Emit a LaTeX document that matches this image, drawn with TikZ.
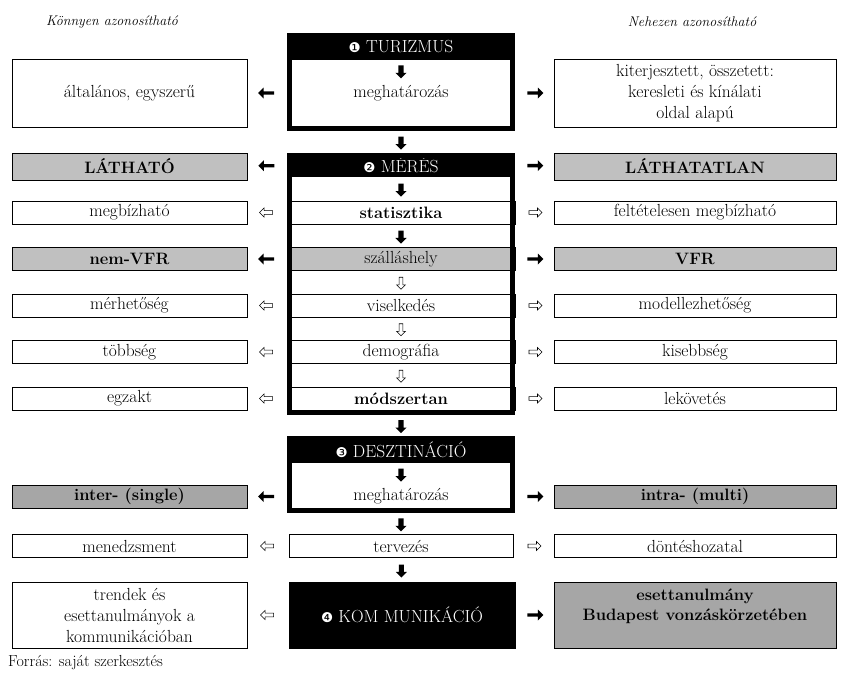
\documentclass[tikz,border=0pt]{standalone}
\usepackage{fontspec}
\newfontfamily\dingfont{DejaVu Sans}
\usetikzlibrary{shapes.arrows,fit}
\definecolor{lightgr}{RGB}{192,192,192}
\definecolor{darkgr}{RGB}{166,166,166}
\newcommand{\txt}{\fontsize{17.5}{21}\selectfont}
\newcommand{\btxt}{\fontsize{16.5}{20.5}\selectfont\bfseries}
\newcommand{\dnum}[1]{{\dingfont\fontsize{13.5}{13.5}\selectfont#1}}

\begin{document}
\begin{tikzpicture}[x=1pt,y=-1pt,font=\txt,
  sidebox/.style={draw,line width=0.8pt,fill=white,inner sep=0pt,align=center,minimum height=23pt},
  lbox/.style={sidebox,minimum width=235pt},
  rbox/.style={sidebox,minimum width=282pt},
  mbox/.style={sidebox,minimum width=228pt},
  headbox/.style={fill=black,text=white,inner sep=0pt,minimum width=228pt,minimum height=27pt},
  thickframe/.style={draw,line width=5pt,inner sep=-2.5pt},
  arr/.style={single arrow,inner xsep=0pt,minimum width=0pt,single arrow head indent=0pt},
  fullright/.style={arr,fill=black,inner ysep=1.5pt,minimum height=16pt,single arrow head extend=3.8pt},
  fullleft/.style={fullright,rotate=180},
  fulldown/.style={arr,fill=black,inner ysep=2.4pt,minimum height=13pt,single arrow head extend=3pt,rotate=-90},
  openright/.style={arr,draw,line width=0.6pt,fill=white,inner ysep=1.6pt,minimum height=13pt,single arrow head extend=2.6pt},
  openleft/.style={openright,rotate=180},
  opendown/.style={openright,minimum height=12pt,single arrow head extend=2.4pt,rotate=-90}]
\useasboundingbox (0,0) rectangle (842,675);

\node[font=\fontsize{14}{17}\selectfont\itshape] (easy) at (112,22) {Könnyen azonosítható};
\node[font=\fontsize{14}{17}\selectfont\itshape] (hard) at (692,22) {Nehezen azonosítható};

% turizmus
\node[headbox] (h1) at (401,46.5) {\dnum{❶} TURIZMUS};
\node[mbox,draw=none,fill=none] (d1) at (401,93) {meghatározás};
\coordinate (e1) at (401,131);
\node[thickframe,fit=(h1)(d1)(e1)] (f1) {};
\node[lbox,minimum height=68pt] (l1) at (129.5,93) {általános, egyszerű};
\node[rbox,minimum height=68pt] (r1) at (695,93) {kiterjesztett, összetett:\\keresleti és kínálati\\oldal alapú};

% meres
\node[headbox,minimum height=24pt] (h2) at (401,165) {\dnum{❷} MÉRÉS};
\node[mbox,font=\btxt] (m1) at (401,212.5) {statisztika};
\node[mbox,fill=lightgr] (m2) at (401,259) {szálláshely};
\node[mbox] (m3) at (401,305.5) {viselkedés};
\node[mbox] (m4) at (401,352) {demográfia};
\node[mbox,font=\btxt] (m5) at (401,398.5) {módszertan};
\coordinate (e2) at (401,415);
\node[thickframe,fit=(h2)(m5)(e2)] (f2) {};

\node[lbox,fill=lightgr,font=\btxt,minimum height=27pt] (l2) at (129.5,166.5) {LÁTHATÓ};
\node[rbox,fill=lightgr,font=\btxt,minimum height=27pt] (r2) at (695,166.5) {LÁTHATATLAN};
\node[lbox] (l3) at (129.5,212.5) {megbízható};
\node[rbox] (r3) at (695,212.5) {feltételesen megbízható};
\node[lbox,fill=lightgr,font=\btxt] (l4) at (129.5,259) {nem-VFR};
\node[rbox,fill=lightgr,font=\btxt] (r4) at (695,259) {VFR};
\foreach \n/\y/\a/\b in {5/305.5/mérhetőség/modellezhetőség,6/352/többség/kisebbség,7/398.5/egzakt/lekövetés} {
  \node[lbox] (l\n) at (129.5,\y) {\a};
  \node[rbox] (r\n) at (695,\y) {\b};
}

% desztinacio
\node[headbox] (h3) at (401,449.5) {\dnum{❸} DESZTINÁCIÓ};
\node[mbox,draw=none,fill=none] (d3) at (401,496.5) {meghatározás};
\coordinate (e3) at (401,513);
\node[thickframe,fit=(h3)(d3)(e3)] (f3) {};
\node[lbox,fill=darkgr,font=\btxt] (l8) at (129.5,496.5) {inter- (single)};
\node[rbox,fill=darkgr,font=\btxt] (r8) at (695,496.5) {intra- (multi)};

\node[mbox,minimum width=224pt] (m6) at (401,546) {tervezés};
\node[lbox] (l9) at (129.5,546) {menedzsment};
\node[rbox] (r9) at (695,546) {döntéshozatal};

% kommunikacio
\node[mbox,fill=black,text=white,minimum width=226pt,minimum height=66pt] (m7) at (402,615) {\dnum{❹} KOM MUNIKÁCIÓ};
\node[lbox,minimum height=66pt] (l10) at (129.5,615) {trendek és\\esettanulmányok a\\kommunikációban};
\node[rbox,fill=darkgr,font=\btxt,minimum height=66pt] (r10) at (695,615) {esettanulmány\\Budapest vonzáskörzetében\\\mbox{}};

\node[anchor=west,inner sep=0pt,font=\fontsize{16}{19}\selectfont] (src) at (8,663) {Forrás: saját szerkesztés};

% lefele
\path (h1.south) -- node[fulldown] {} (d1.north);
\path (f1.south) -- node[fulldown] {} (h2.north);
\path (h2) -- node[fulldown] {} (m1);
\path (m1) -- node[fulldown] {} (m2);
\path (m2) -- node[opendown] {} (m3);
\path (m3) -- node[opendown] {} (m4);
\path (m4) -- node[opendown] {} (m5);
\path (f2.south) -- node[fulldown] {} (h3.north);
\path (h3.south) -- node[fulldown] {} (d3.north);
\path (f3.south) -- node[fulldown] {} (m6.north);
\path (m6) -- node[fulldown] {} (m7);

% oldalra
\path (d1) -- node[fullleft] {} (l1);
\path (d1) -- node[fullright] {} (r1);
\path (h2) -- node[fullleft] {} (l2);
\path (h2) -- node[fullright] {} (r2);
\path (m1) -- node[openleft] {} (l3);
\path (m1) -- node[openright] {} (r3);
\path (m2) -- node[fullleft] {} (l4);
\path (m2) -- node[fullright] {} (r4);
\foreach \i/\n in {3/5,4/6,5/7} {
  \path (m\i) -- node[openleft] {} (l\n);
  \path (m\i) -- node[openright] {} (r\n);
}
\path (d3) -- node[fullleft] {} (l8);
\path (d3) -- node[fullright] {} (r8);
\path (m6) -- node[openleft] {} (l9);
\path (m6) -- node[openright] {} (r9);
\path (m7) -- node[openleft] {} (l10);
\path (m7) -- node[fullright] {} (r10);
\end{tikzpicture}
\end{document}
